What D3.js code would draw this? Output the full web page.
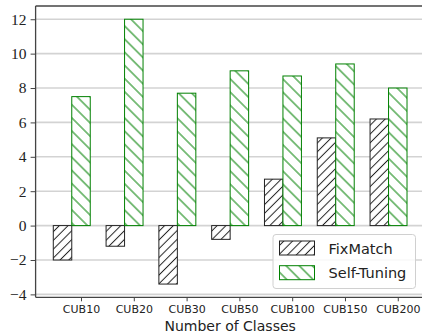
<!DOCTYPE html>
<html>
<head>
<meta charset="utf-8">
<script src="https://cdn.jsdelivr.net/npm/d3@7"></script>
<style>
  html, body { margin: 0; padding: 0; background: #fff; }
  svg { display: block; }
</style>
</head>
<body>
<svg id="chart" width="422" height="335"></svg>
<script>
// Accuracy gain over the baseline, per CUB subset
const categories = ["CUB10", "CUB20", "CUB30", "CUB50", "CUB100", "CUB150", "CUB200"];
const fixMatch = [-2.0, -1.2, -3.4, -0.8, 2.7, 5.1, 6.2];
const selfTuning = [7.5, 12.0, 7.7, 9.0, 8.7, 9.4, 8.0];
const yTicks = [-4, -2, 0, 2, 4, 6, 8, 10, 12];
const seriesNames = ["FixMatch", "Self-Tuning"];

const svg = d3.select("#chart");
const barW = 0.35;

// x in category-index units; the tick sits under the Self-Tuning bar
const x = d3.scaleLinear().domain([-0.86, 6.51]).range([35.6, 424.7]);
const y = d3.scaleLinear().domain([-4.17, 12.77]).range([297.3, 6]);

// hatch fills
const defs = svg.append("defs");
function hatch(id, color, spacing, angle) {
  const p = defs.append("pattern")
    .attr("id", id)
    .attr("patternUnits", "userSpaceOnUse")
    .attr("width", spacing).attr("height", spacing)
    .attr("patternTransform", `rotate(${angle})`);
  p.append("rect").attr("width", spacing).attr("height", spacing).attr("fill", "#fff");
  p.append("line")
    .attr("x1", spacing / 2).attr("y1", -1)
    .attr("x2", spacing / 2).attr("y2", spacing + 1)
    .attr("stroke", color).attr("stroke-width", 1);
}
hatch("hatchFix", "#222", 6.2, 45);
hatch("hatchSelf", "green", 9.3, -45);

// horizontal grid
svg.append("g").selectAll("line").data(yTicks).join("line")
  .attr("x1", x.range()[0]).attr("x2", 422)
  .attr("y1", d => y(d)).attr("y2", d => y(d))
  .attr("stroke", "#d3d3d3").attr("stroke-width", 1.6);

// bars
const idx = d3.range(categories.length);
svg.append("g").selectAll("rect").data(idx).join("rect")
  .attr("x", i => x(i - 1.5 * barW))
  .attr("width", i => x(i - 0.5 * barW) - x(i - 1.5 * barW))
  .attr("y", i => y(Math.max(0, fixMatch[i])))
  .attr("height", i => Math.abs(y(fixMatch[i]) - y(0)))
  .attr("fill", "url(#hatchFix)")
  .attr("stroke", "#222").attr("stroke-width", 1);

svg.append("g").selectAll("rect").data(idx).join("rect")
  .attr("x", i => x(i - 0.5 * barW))
  .attr("width", i => x(i + 0.5 * barW) - x(i - 0.5 * barW))
  .attr("y", i => y(Math.max(0, selfTuning[i])))
  .attr("height", i => Math.abs(y(selfTuning[i]) - y(0)))
  .attr("fill", "url(#hatchSelf)")
  .attr("stroke", "green").attr("stroke-width", 1);

// y axis
const yAxis = svg.append("g")
  .attr("transform", `translate(${x.range()[0]},0)`)
  .call(d3.axisLeft(y).tickValues(yTicks).tickSize(5).tickPadding(4)
    .tickFormat(d => d < 0 ? "\u2212" + Math.abs(d) : d));
yAxis.select(".domain").remove();
yAxis.selectAll(".tick line").attr("stroke", "#444").attr("stroke-width", 1);
yAxis.selectAll(".tick text")
  .attr("font-family", "'Liberation Serif', serif")
  .attr("font-size", 15.5).attr("fill", "#222");

// x axis
const xAxis = svg.append("g")
  .attr("transform", `translate(0,${y.range()[0]})`)
  .call(d3.axisBottom(x).tickValues(idx).tickSize(4).tickPadding(4)
    .tickFormat(i => categories[i]));
xAxis.select(".domain").remove();
xAxis.selectAll(".tick line").attr("stroke", "#444").attr("stroke-width", 1);
xAxis.selectAll(".tick text")
  .attr("font-family", "'DejaVu Sans', sans-serif")
  .attr("font-size", 11).attr("fill", "#222");

// spines
const spine = svg.append("g").attr("stroke", "#444").attr("stroke-width", 1.3);
spine.append("line").attr("x1", x.range()[0]).attr("x2", x.range()[0])
  .attr("y1", y.range()[1]).attr("y2", y.range()[0]);
spine.append("line").attr("x1", x.range()[0]).attr("x2", 422)
  .attr("y1", y.range()[1]).attr("y2", y.range()[1]);
spine.append("line").attr("x1", x.range()[0]).attr("x2", 422)
  .attr("y1", y.range()[0]).attr("y2", y.range()[0]);

// axis title
svg.append("text")
  .attr("x", (x.range()[0] + x.range()[1]) / 2).attr("y", 331)
  .attr("text-anchor", "middle")
  .attr("font-family", "'DejaVu Sans', sans-serif")
  .attr("font-size", 14).attr("fill", "#222")
  .text("Number of Classes");

// legend
const lg = svg.append("g").attr("transform", "translate(273,234.5)");
lg.append("rect").attr("width", 142.5).attr("height", 54).attr("rx", 3)
  .attr("fill", "#fff").attr("fill-opacity", 0.85)
  .attr("stroke", "#d0d0d0").attr("stroke-width", 1);
const fills = ["url(#hatchFix)", "url(#hatchSelf)"];
const strokes = ["#222", "green"];
seriesNames.forEach((name, k) => {
  const row = lg.append("g").attr("transform", `translate(6.5,${6.5 + k * 24.7})`);
  row.append("rect").attr("width", 35).attr("height", 14)
    .attr("fill", fills[k]).attr("stroke", strokes[k]).attr("stroke-width", 1);
  row.append("text").attr("x", 49).attr("y", 12.5)
    .attr("font-family", "'DejaVu Sans', sans-serif")
    .attr("font-size", 14.5).attr("fill", "#222")
    .text(name);
});
</script>
</body>
</html>
